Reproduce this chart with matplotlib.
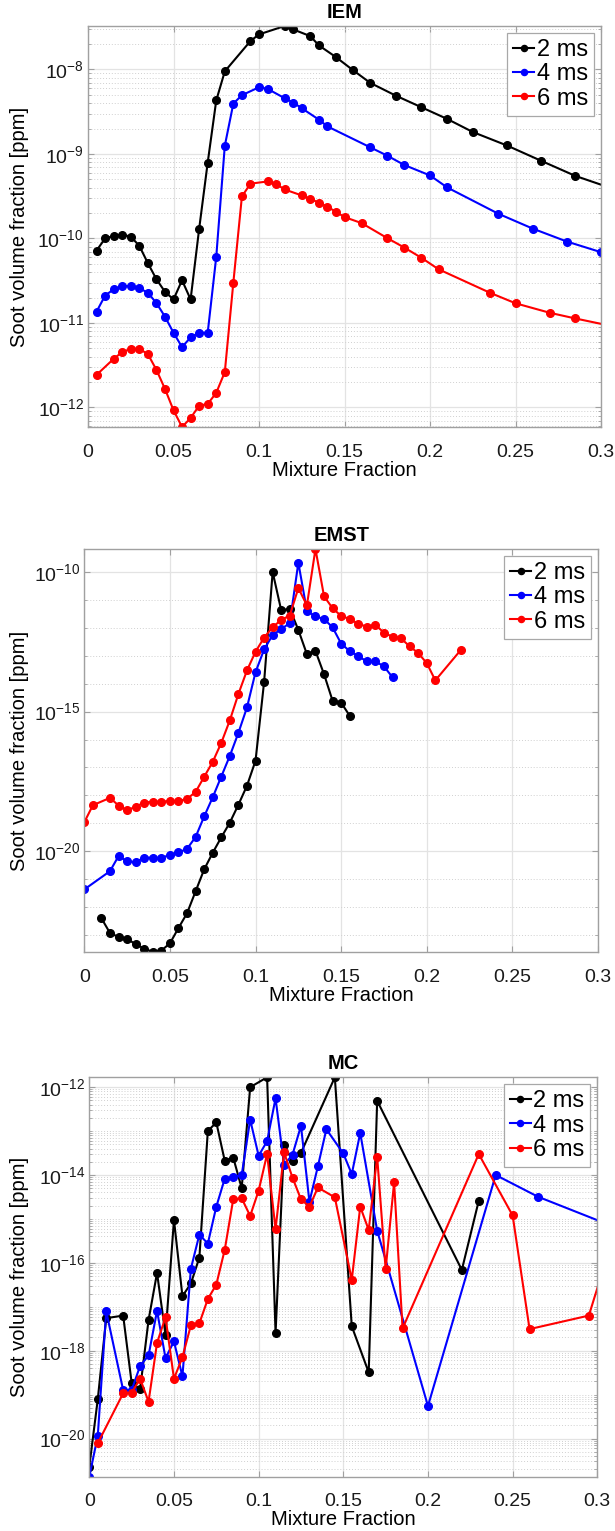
import numpy as np
import matplotlib
matplotlib.use("Agg")
import matplotlib.pyplot as plt
from matplotlib.ticker import FixedLocator, LogLocator, NullFormatter, LogFormatterSciNotation

# ---- IEM ----
iem_x_2ms = [0.005, 0.01, 0.015, 0.02, 0.025, 0.03, 0.035, 0.04, 0.045, 0.05, 0.055, 0.06, 0.065,
             0.07, 0.075, 0.08, 0.095, 0.1, 0.115, 0.12, 0.13, 0.135, 0.145, 0.155, 0.165, 0.18,
             0.195, 0.21, 0.225, 0.245, 0.265, 0.285, 0.305]
iem_y_2ms = [7.2e-11, 1.0e-10, 1.07e-10, 1.11e-10, 1.05e-10, 8.2e-11, 5.1e-11, 3.3e-11, 2.34e-11,
             1.9e-11, 3.2e-11, 1.9e-11, 1.3e-10, 7.9e-10, 4.3e-9, 9.5e-9, 2.17e-8, 2.6e-8, 3.27e-8,
             2.98e-8, 2.48e-8, 1.93e-8, 1.4e-8, 9.8e-9, 6.95e-9, 4.9e-9, 3.57e-9, 2.6e-9, 1.82e-9,
             1.26e-9, 8.3e-10, 5.5e-10, 4.0e-10]
iem_x_4ms = [0.005, 0.01, 0.015, 0.02, 0.025, 0.03, 0.035, 0.04, 0.045, 0.05, 0.055, 0.06, 0.065,
             0.07, 0.075, 0.08, 0.085, 0.09, 0.1, 0.105, 0.115, 0.12, 0.125, 0.135, 0.14, 0.165,
             0.175, 0.185, 0.2, 0.21, 0.24, 0.26, 0.28, 0.3]
iem_y_4ms = [1.36e-11, 2.11e-11, 2.5e-11, 2.72e-11, 2.75e-11, 2.58e-11, 2.28e-11, 1.72e-11, 1.19e-11,
             7.66e-12, 5.18e-12, 6.75e-12, 7.66e-12, 7.66e-12, 6.05e-11, 1.25e-9, 3.95e-9, 4.96e-9,
             6.16e-9, 5.9e-9, 4.57e-9, 4.06e-9, 3.48e-9, 2.55e-9, 2.12e-9, 1.2e-9, 9.55e-10, 7.4e-10,
             5.57e-10, 4.02e-10, 1.96e-10, 1.31e-10, 9.2e-11, 6.88e-11]
iem_x_6ms = [0.005, 0.015, 0.02, 0.025, 0.03, 0.035, 0.04, 0.045, 0.05, 0.055, 0.06, 0.065, 0.07,
             0.075, 0.08, 0.085, 0.09, 0.095, 0.105, 0.11, 0.115, 0.125, 0.13, 0.135, 0.14, 0.145,
             0.15, 0.16, 0.175, 0.185, 0.195, 0.205, 0.235, 0.25, 0.27, 0.285, 0.305]
iem_y_6ms = [2.43e-12, 3.76e-12, 4.52e-12, 4.94e-12, 4.94e-12, 4.28e-12, 2.79e-12, 1.66e-12, 9.27e-13,
             5.87e-13, 7.5e-13, 1.05e-12, 1.1e-12, 1.49e-12, 2.62e-12, 3.01e-11, 3.14e-10, 4.45e-10,
             4.73e-10, 4.41e-10, 3.8e-10, 3.23e-10, 2.93e-10, 2.66e-10, 2.37e-10, 2.07e-10, 1.79e-10,
             1.52e-10, 1.01e-10, 7.8e-11, 5.9e-11, 4.32e-11, 2.28e-11, 1.71e-11, 1.32e-11, 1.13e-11,
             9.3e-12]

# ---- EMST ----
emst_x_2ms = [0.01, 0.015, 0.02, 0.025, 0.03, 0.035, 0.04, 0.045, 0.05, 0.055, 0.06, 0.065, 0.07,
              0.075, 0.08, 0.085, 0.09, 0.095, 0.1, 0.105, 0.11, 0.115, 0.12, 0.125, 0.13, 0.135,
              0.14, 0.145, 0.15, 0.155]
emst_y_2ms = [3.9e-23, 1.15e-23, 8.3e-24, 7.2e-24, 4.5e-24, 3.2e-24, 2.4e-24, 2.7e-24, 4.9e-24,
              1.74e-23, 5.9e-23, 3.6e-22, 2.2e-21, 8.7e-21, 3.1e-20, 1.05e-19, 4.6e-19, 2.2e-18,
              1.74e-17, 1.15e-14, 1.02e-10, 4.3e-12, 4.9e-12, 8.5e-13, 1.15e-13, 1.5e-13, 2.2e-14,
              2.45e-15, 2.1e-15, 7.1e-16]
emst_x_4ms = [0.0, 0.015, 0.02, 0.025, 0.03, 0.035, 0.04, 0.045, 0.05, 0.055, 0.06, 0.065, 0.07,
              0.075, 0.08, 0.085, 0.09, 0.095, 0.1, 0.105, 0.11, 0.115, 0.12, 0.125, 0.13, 0.135,
              0.14, 0.145, 0.15, 0.155, 0.16, 0.165, 0.17, 0.175, 0.18]
emst_y_4ms = [4.2e-22, 1.9e-21, 6.6e-21, 4.3e-21, 4.0e-21, 5.8e-21, 5.8e-21, 5.6e-21, 7.4e-21,
              8.9e-21, 1.2e-20, 3.2e-20, 1.74e-19, 8.5e-19, 4.7e-18, 2.6e-17, 1.74e-16, 1.41e-15,
              2.6e-14, 1.7e-13, 5.6e-13, 9.1e-13, 1.5e-12, 2.2e-10, 4.1e-12, 2.6e-12, 2.1e-12,
              1.05e-12, 2.75e-13, 1.48e-13, 9.8e-14, 6.3e-14, 6.3e-14, 4.2e-14, 1.7e-14]
emst_x_6ms = [0.0, 0.005, 0.015, 0.02, 0.025, 0.03, 0.035, 0.04, 0.045, 0.05, 0.055, 0.06, 0.065,
              0.07, 0.075, 0.08, 0.085, 0.09, 0.095, 0.1, 0.105, 0.11, 0.115, 0.12, 0.125, 0.13,
              0.135, 0.14, 0.145, 0.15, 0.155, 0.16, 0.165, 0.17, 0.175, 0.18, 0.185, 0.19, 0.195,
              0.2, 0.205, 0.22]
emst_y_6ms = [1.08e-19, 4.4e-19, 8.1e-19, 4.3e-19, 2.9e-19, 3.9e-19, 5.5e-19, 5.9e-19, 5.9e-19,
              6.3e-19, 6.2e-19, 7.4e-19, 1.32e-18, 4.6e-18, 1.58e-17, 7.6e-17, 4.9e-16, 4.3e-15,
              3.0e-14, 1.41e-13, 4.5e-13, 1.07e-12, 1.95e-12, 2.8e-12, 2.7e-11, 6.5e-12, 6.8e-10,
              1.38e-11, 5.1e-12, 2.7e-12, 2.1e-12, 1.41e-12, 1.12e-12, 1.29e-12, 6.8e-13, 4.8e-13,
              4.2e-13, 2.2e-13, 1.26e-13, 5.5e-14, 1.32e-14, 1.66e-13]

# ---- MC ----
mc_x_2ms = [0.0, 0.005, 0.01, 0.02, 0.025, 0.03, 0.035, 0.04, 0.045, 0.05, 0.055, 0.06, 0.065,
            0.07, 0.075, 0.08, 0.085, 0.09, 0.095, 0.105, 0.11, 0.115, 0.12, 0.125, 0.145, 0.155,
            0.165, 0.17, 0.22, 0.23]
mc_y_2ms = [2.3e-21, 7.8e-20, 5.5e-18, 6.3e-18, 1.86e-19, 1.32e-19, 5.0e-18, 5.9e-17, 2.3e-18,
            9.5e-16, 1.74e-17, 3.4e-17, 1.32e-16, 1.0e-13, 1.58e-13, 2.1e-14, 2.5e-14, 5.0e-15,
            1.0e-12, 1.68e-12, 2.5e-18, 4.9e-14, 2.1e-14, 3.2e-14, 1.68e-12, 3.6e-18, 3.2e-19,
            4.9e-13, 6.9e-17, 2.6e-15]
mc_x_4ms = [0.0, 0.005, 0.01, 0.02, 0.025, 0.03, 0.035, 0.04, 0.045, 0.05, 0.055, 0.06, 0.065,
            0.07, 0.075, 0.08, 0.085, 0.09, 0.095, 0.1, 0.105, 0.11, 0.115, 0.12, 0.125, 0.13,
            0.135, 0.14, 0.15, 0.155, 0.16, 0.17, 0.2, 0.24, 0.265, 0.31]
mc_y_4ms = [1.35e-21, 1.15e-20, 7.9e-18, 1.26e-19, 1.26e-19, 4.5e-19, 7.8e-19, 8.1e-18, 6.8e-19,
            1.62e-18, 2.6e-19, 7.4e-17, 4.4e-16, 2.75e-16, 1.9e-15, 8.3e-15, 9.1e-15, 1.0e-14,
            1.82e-13, 2.75e-14, 5.9e-14, 5.6e-13, 1.7e-14, 2.9e-14, 1.32e-13, 2.45e-15, 1.58e-14,
            1.1e-13, 3.1e-14, 1.05e-14, 9.1e-14, 5.4e-16, 5.5e-20, 1.0e-14, 3.2e-15, 6.6e-16]
mc_x_6ms = [0.005, 0.02, 0.025, 0.03, 0.035, 0.04, 0.045, 0.05, 0.055, 0.06, 0.065, 0.07, 0.075,
            0.08, 0.085, 0.09, 0.095, 0.1, 0.105, 0.11, 0.115, 0.12, 0.125, 0.13, 0.135, 0.145,
            0.155, 0.16, 0.165, 0.17, 0.175, 0.18, 0.185, 0.23, 0.25, 0.26, 0.295, 0.305]
mc_y_6ms = [7.8e-21, 1.07e-19, 1.1e-19, 2.3e-19, 6.9e-20, 1.5e-18, 5.8e-18, 2.3e-19, 7.1e-19,
            3.8e-18, 4.2e-18, 1.5e-17, 3.2e-17, 2.0e-16, 2.8e-15, 2.95e-15, 1.17e-15, 4.4e-15,
            3.0e-14, 5.8e-16, 3.3e-14, 8.7e-15, 2.8e-15, 1.9e-15, 5.2e-15, 3.1e-15, 4.1e-17,
            1.9e-15, 5.6e-16, 2.6e-14, 7.1e-17, 6.8e-15, 3.2e-18, 3.0e-14, 1.2e-15, 3.1e-18,
            6.3e-18, 1.1e-16]

labels = ["2 ms", "4 ms", "6 ms"]
colors = ["k", (0, 0, 1), (1, 0, 0)]

plt.rcParams["font.family"] = ["Liberation Sans", "DejaVu Sans"]
plt.rcParams["mathtext.fontset"] = "custom"
plt.rcParams["mathtext.rm"] = "Liberation Sans"
plt.rcParams["mathtext.default"] = "regular"

W, H = 615, 1531
fig = plt.figure(figsize=(W / 100, H / 100), dpi=100)

# axes boxes in pixels: left, top, right, bottom
boxes = [(88, 26, 601, 427), (84.3, 549, 598, 952), (89.3, 1077.3, 597.3, 1476.7)]
panels = [
    ("IEM", [(iem_x_2ms, iem_y_2ms), (iem_x_4ms, iem_y_4ms), (iem_x_6ms, iem_y_6ms)]),
    ("EMST", [(emst_x_2ms, emst_y_2ms), (emst_x_4ms, emst_y_4ms), (emst_x_6ms, emst_y_6ms)]),
    ("MC", [(mc_x_2ms, mc_y_2ms), (mc_x_4ms, mc_y_4ms), (mc_x_6ms, mc_y_6ms)]),
]

edge = "#a0a0a0"
for (l, t, r, b), (title, series) in zip(boxes, panels):
    ax = fig.add_axes([l / W, 1 - b / H, (r - l) / W, (b - t) / H])
    lo, hi = np.inf, -np.inf
    for (x, y), lab, c in zip(series, labels, colors):
        ax.plot(x, y, "-o", color=c, lw=1.5, ms=5.5, label=lab)
        xa, ya = np.array(x), np.array(y)
        ya = ya[xa <= 0.3]
        lo, hi = min(lo, ya.min()), max(hi, ya.max())
    ax.set_yscale("log")
    ax.set_xlim(0, 0.3)
    ax.set_ylim(lo, hi)
    ax.set_xticks([0, 0.05, 0.1, 0.15, 0.2, 0.25, 0.3])
    ax.set_xticklabels(["0", "0.05", "0.1", "0.15", "0.2", "0.25", "0.3"])

    if title == "IEM":
        ax.yaxis.set_major_locator(LogLocator(base=10, numticks=20))
        ax.yaxis.set_minor_locator(LogLocator(base=10, subs=np.arange(2, 10), numticks=20))
    elif title == "EMST":
        ax.yaxis.set_major_locator(FixedLocator([1e-20, 1e-15, 1e-10]))
        # one minor tick per decade between the labelled ones
        ax.yaxis.set_minor_locator(FixedLocator([float(f"1e{k}") for k in range(-24, -8) if k % 5]))
    else:
        ax.yaxis.set_major_locator(FixedLocator([1e-20, 1e-18, 1e-16, 1e-14, 1e-12]))
        ax.yaxis.set_minor_locator(LogLocator(base=10, subs=np.arange(1, 10), numticks=30))
    ax.yaxis.set_major_formatter(LogFormatterSciNotation())
    ax.yaxis.set_minor_formatter(NullFormatter())

    ax.grid(True, which="major", color="#e3e3e3", lw=0.9, ls="-")
    ax.grid(True, which="minor", axis="y", color="#d0d0d0", lw=0.7, ls=(0, (1, 2)))
    ax.set_axisbelow(True)
    for s in ax.spines.values():
        s.set_color(edge)
        s.set_linewidth(1.0)
    ax.tick_params(which="both", direction="in", top=True, right=True, color=edge,
                   labelsize=14, labelcolor="#1a1a1a")
    ax.tick_params(axis="x", which="major", pad=12)
    ax.tick_params(axis="y", which="major", pad=3)
    ax.tick_params(which="major", length=4)
    ax.tick_params(which="minor", length=2)

    ax.set_title(title, fontsize=14.5, fontweight="bold", pad=6)
    ax.set_xlabel("Mixture Fraction", fontsize=14.5, labelpad=0)
    ax.set_ylabel("Soot volume fraction [ppm]", fontsize=14.5)
    ax.yaxis.set_label_coords((29 - l) / (r - l), 0.5)

    leg = ax.legend(loc="upper right", bbox_to_anchor=(1 - 7 / (r - l), 1 - 7 / (b - t)),
                    borderaxespad=0, fontsize=17, fancybox=False, framealpha=1,
                    edgecolor="#a8a8a8", handlelength=0.9, handletextpad=0.1,
                    labelspacing=0.1, borderpad=0.25, markerscale=0.8)
    leg.get_frame().set_linewidth(0.9)

fig.savefig("out.png", dpi=100)
